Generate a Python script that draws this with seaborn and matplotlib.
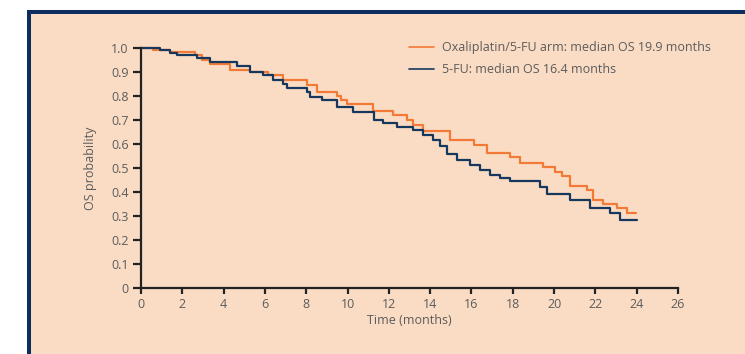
import pandas as pd
import numpy as np
import matplotlib
matplotlib.use('Agg')
import matplotlib.pyplot as plt
import seaborn as sns
from matplotlib.patches import Rectangle

# Kaplan-Meier step data (time in months, survival after each drop)
oxa_time = [0, 0.6, 1.4, 2.6, 2.94, 3.34, 4.3, 5.28, 6.17, 6.89, 8.02, 8.5, 9.47, 9.7, 9.96,
            11.25, 12.22, 12.86, 13.19, 13.67, 14.96, 16.1, 16.74, 17.87, 18.35, 19.48,
            20.05, 20.4, 20.78, 21.58, 21.9, 22.39, 23.03, 23.52, 23.95]
oxa_surv = [1.0, 0.993, 0.982, 0.971, 0.95, 0.932, 0.908, 0.899, 0.888, 0.867, 0.846, 0.818,
            0.80, 0.783, 0.765, 0.739, 0.721, 0.700, 0.679, 0.654, 0.617, 0.596, 0.564, 0.547,
            0.519, 0.506, 0.485, 0.467, 0.425, 0.408, 0.367, 0.348, 0.332, 0.311, 0.311]

fu_time = [0, 0.92, 1.4, 1.73, 2.7, 3.34, 4.63, 5.28, 5.92, 6.41, 6.89, 7.05, 8.02, 8.2, 8.75,
           9.47, 10.28, 11.3, 11.7, 12.38, 13.19, 13.67, 14.16, 14.48, 14.8, 15.29, 15.93,
           16.42, 16.9, 17.38, 17.87, 19.32, 19.65, 20.78, 21.74, 22.71, 23.2, 24.0]
fu_surv = [1.0, 0.99, 0.98, 0.97, 0.96, 0.94, 0.925, 0.90, 0.888, 0.867, 0.85, 0.832, 0.815,
           0.797, 0.783, 0.756, 0.735, 0.70, 0.686, 0.672, 0.658, 0.638, 0.617, 0.59, 0.56,
           0.533, 0.512, 0.492, 0.471, 0.457, 0.447, 0.42, 0.392, 0.365, 0.332, 0.311, 0.283,
           0.283]

arm_labels = ['Oxaliplatin/5-FU arm: median OS 19.9 months', '5-FU: median OS 16.4 months']
x_ticks = list(range(0, 27, 2))
y_ticks = [0, 0.1, 0.2, 0.3, 0.4, 0.5, 0.6, 0.7, 0.8, 0.9, 1.0]
y_ticklabels = ['0', '0.1', '0.2', '0.3', '0.4', '0.5', '0.6', '0.7', '0.8', '0.9', '1.0']

df = pd.concat([
    pd.DataFrame({'time': oxa_time, 'surv': oxa_surv, 'arm': arm_labels[0]}),
    pd.DataFrame({'time': fu_time, 'surv': fu_surv, 'arm': arm_labels[1]}),
])

peach = '#FADCC4'
navy = '#0E2D5F'
orange = '#F37A36'
dark_blue = '#17385E'
grey = '#5B5B5B'

sns.set_style('white')
plt.rcParams['font.family'] = ['Open Sans', 'DejaVu Sans']

fig = plt.figure(figsize=(7.45, 3.54), dpi=100)
fig.patch.set_facecolor('white')

# peach panel with navy frame on top/left, kept behind the axes
W, H = 745, 354
fig.patches.append(Rectangle((31 / W, 0), 1, 1 - 14 / H, transform=fig.transFigure,
                             facecolor=peach, edgecolor='none', zorder=-3))
fig.patches.append(Rectangle((27 / W, 0), 4 / W, 1 - 10 / H, transform=fig.transFigure,
                             facecolor=navy, edgecolor='none', zorder=-2))
fig.patches.append(Rectangle((27 / W, 1 - 14 / H), 1, 4 / H, transform=fig.transFigure,
                             facecolor=navy, edgecolor='none', zorder=-2))

ax = fig.add_axes([141 / W, 1 - 288 / H, (678 - 141) / W, (288 - 48) / H])
ax.set_zorder(1)
ax.set_facecolor('none')

sns.lineplot(data=df, x='time', y='surv', hue='arm', palette=[orange, dark_blue],
             drawstyle='steps-post', estimator=None, sort=False, linewidth=1.6,
             ax=ax, clip_on=False)

ax.set_xlim(0, 26)
ax.set_ylim(0, 1.0)
ax.set_xticks(x_ticks)
ax.set_yticks(y_ticks)
ax.set_yticklabels(y_ticklabels)
ax.set_xlabel('Time (months)', color=grey, fontsize=9, labelpad=2)
ax.set_ylabel('OS probability', color=grey, fontsize=9, labelpad=10)

for side in ['top', 'right']:
    ax.spines[side].set_visible(False)
for side in ['left', 'bottom']:
    ax.spines[side].set_color('#222222')
    ax.spines[side].set_linewidth(1.6)
ax.tick_params(axis='y', direction='out', length=6, width=1.6, color='#222222',
               labelcolor=grey, labelsize=9, pad=3, left=True)
ax.tick_params(axis='x', direction='out', length=4, width=1.6, color='#222222',
               labelcolor=grey, labelsize=9, pad=3, bottom=True)

handles, labels = ax.get_legend_handles_labels()
leg = ax.legend(handles, labels, loc='upper left', bbox_to_anchor=(0.49, 1.05),
                frameon=False, fontsize=9, handlelength=2.0, handletextpad=0.6,
                labelspacing=0.75, borderaxespad=0)
for t in leg.get_texts():
    t.set_color(grey)
for l in leg.get_lines():
    l.set_linewidth(1.2)

fig.savefig('out.png', dpi=100, facecolor=fig.get_facecolor())
